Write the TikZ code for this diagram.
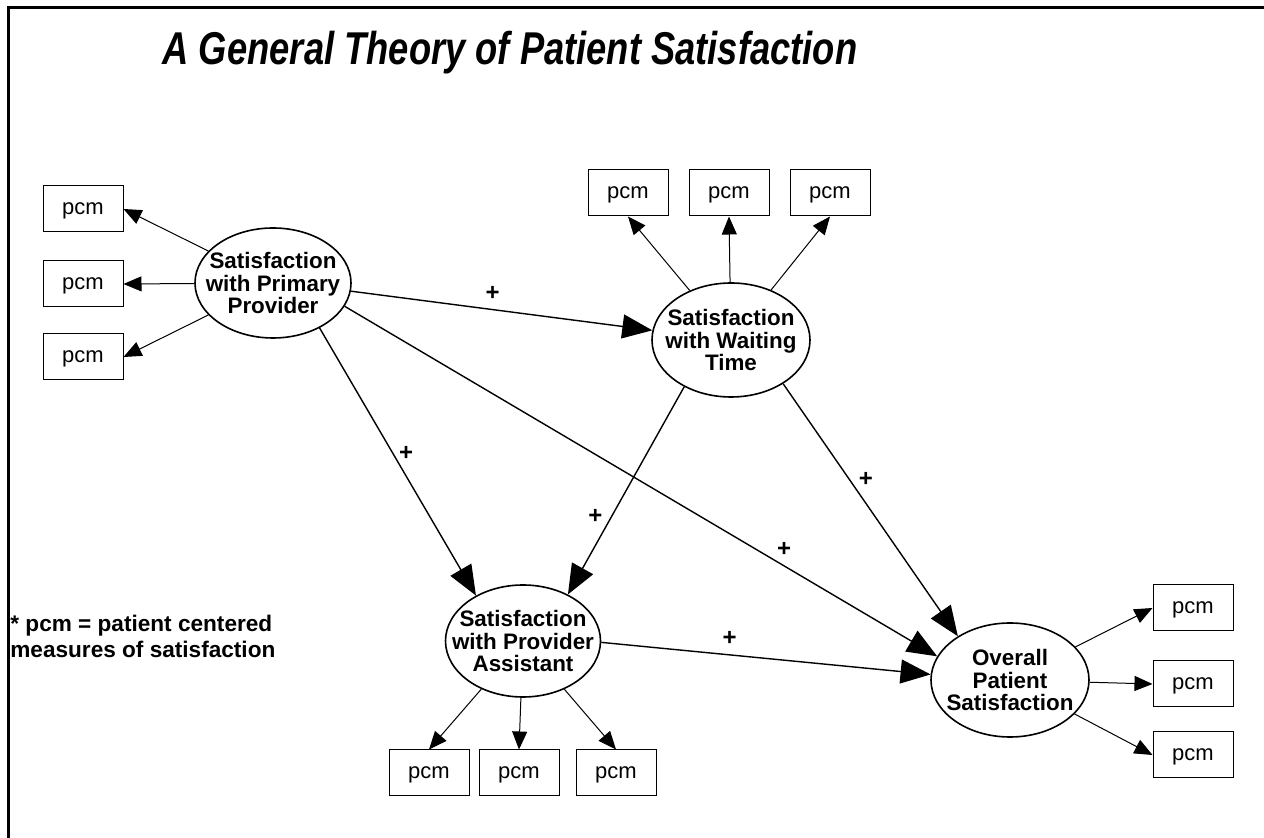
\documentclass[tikz,border=0pt]{standalone}
\usepackage{fontspec}
\setmainfont{Liberation Sans}
\newfontfamily\titlefont[FakeStretch=0.79]{Liberation Sans}
\usetikzlibrary{arrows.meta,shapes.geometric}

\begin{document}
\begin{tikzpicture}[x=0.5pt, y=-0.5pt,
    latent/.style={ellipse, draw, line width=0.8pt, minimum width=79pt, minimum height=57pt,
        inner xsep=-10pt, inner ysep=0pt, align=center, font=\fontsize{11.2}{11.2}\selectfont\bfseries},
    pcm/.style={rectangle, draw, line width=0.5pt, minimum width=40pt, minimum height=23pt,
        inner sep=0pt, text height=5.6pt, text depth=0pt, font=\fontsize{11}{13}\selectfont},
    effect/.style={line width=0.7pt, -{Triangle[length=15pt, width=12pt]}},
    measure/.style={line width=0.5pt, -{Triangle[length=9pt, width=7.5pt]}},
    sign/.style={font=\fontsize{12}{12}\selectfont\bfseries, inner sep=0pt}]
    \useasboundingbox (0,0) rectangle (1264,838);

    % Moldura e titulo
    \draw[line width=1.5pt] (1264,8) -- (8,8) -- (8,838);
    \node[anchor=base, font=\titlefont\fontsize{23}{23}\selectfont\bfseries\itshape] (title) at (510,65)
        {A General Theory of Patient Satisfaction};

    % Variaveis latentes
    \node[latent, minimum width=78pt, minimum height=55pt] (P) at (273,283) {Satisfaction\\with Primary\\Provider};
    \node[latent] (W) at (731,340) {Satisfaction\\with Waiting\\Time};
    \node[latent, minimum width=77.5pt, minimum height=56pt] (A) at (523,641) {Satisfaction\\with Provider\\Assistant};
    \node[latent] (O) at (1010,680) {Overall\\Patient\\Satisfaction};

    % Medidas
    \node[pcm] (l1) at (83,209) {pcm};
    \node[pcm] (l2) at (83,284) {pcm};
    \node[pcm] (l3) at (83,357) {pcm};
    \node[pcm] (t1) at (628,193) {pcm};
    \node[pcm] (t2) at (729,193) {pcm};
    \node[pcm] (t3) at (830,193) {pcm};
    \node[pcm] (b1) at (429,773) {pcm};
    \node[pcm] (b2) at (519,773) {pcm};
    \node[pcm] (b3) at (616,773) {pcm};
    \node[pcm] (r1) at (1193,608) {pcm};
    \node[pcm] (r2) at (1193,684) {pcm};
    \node[pcm] (r3) at (1193,755) {pcm};

    % Nota
    \node[anchor=west, align=left, inner sep=0pt, font=\fontsize{11.3}{13}\selectfont\bfseries] (note) at (10,636)
        {* pcm = patient centered\\measures of satisfaction};

    % Caminhos estruturais
    \draw[effect] (P.354) -- (W.173) node[sign, pos=0.47, yshift=8pt] {+};
    \draw[effect] (P.316) -- (A.136) node[sign, pos=0.49, xshift=5pt, yshift=3pt] {+};
    \draw[effect] (W.225) -- (A.46) node[sign, pos=0.66, xshift=-6pt, yshift=3.5pt] {+};
    \draw[effect] (P.342) -- (O.162) node[sign, pos=0.73, xshift=3.5pt, yshift=6pt] {+};
    \draw[effect] (W.320) -- (O.140) node[sign, pos=0.41, xshift=5.5pt, yshift=4pt] {+};
    \draw[effect] (A.359) -- (O.176) node[sign, pos=0.39, yshift=8pt] {+};

    % Setas de medida
    \draw[measure] (P) -- (l1.east);
    \draw[measure] (P) -- (l2.east);
    \draw[measure] (P) -- (l3.east);
    \draw[measure] (W) -- (t1.south);
    \draw[measure] (W) -- (t2.south);
    \draw[measure] (W) -- (t3.south);
    \draw[measure] (A) -- (b1.north);
    \draw[measure] (A) -- (b2.north);
    \draw[measure] (A) -- (b3.north);
    \draw[measure] (O) -- (r1.west);
    \draw[measure] (O) -- (r2.west);
    \draw[measure] (O) -- (r3.west);
\end{tikzpicture}
\end{document}
